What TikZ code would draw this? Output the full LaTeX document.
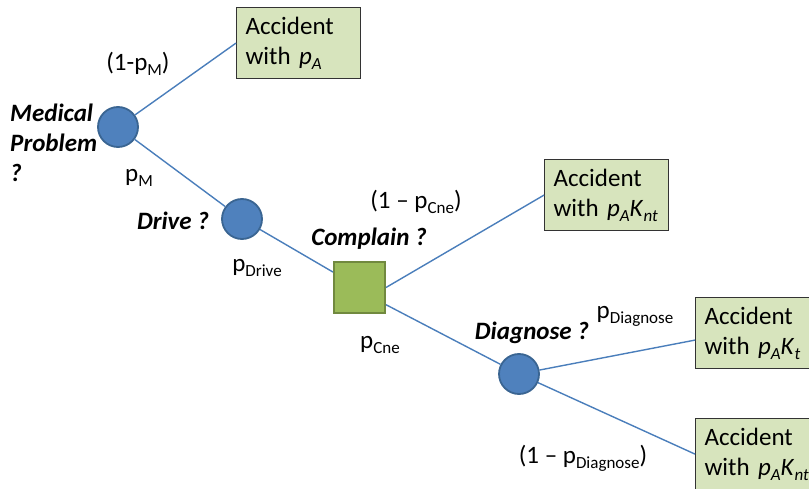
\documentclass[tikz,border=0pt]{standalone}
\usepackage{fontspec}
\setmainfont{Carlito}
\newcommand\lo[1]{\raisebox{-5pt}{\fontsize{17}{17}\selectfont #1}}
\definecolor{circfill}{HTML}{4F81BD}
\definecolor{circborder}{HTML}{3A6592}
\definecolor{sqfill}{HTML}{9BBB59}
\definecolor{sqborder}{HTML}{71893F}
\definecolor{boxfill}{HTML}{D7E4BD}
\definecolor{linecol}{HTML}{4A7EBB}
\begin{document}
\begin{tikzpicture}[x=1pt,y=-1pt,
  font=\fontsize{25}{30}\selectfont,
  chance/.style={circle, draw=circborder, fill=circfill, line width=1.8pt, minimum size=40pt, inner sep=0pt},
  decision/.style={rectangle, draw=sqborder, fill=sqfill, line width=2pt, minimum size=51pt, inner sep=0pt},
  outcome/.style={rectangle, draw=black!80, fill=boxfill, line width=1.2pt, minimum height=71pt, text width=106pt, inner xsep=9pt, inner ysep=0pt, align=left, anchor=north west},
  branch/.style={draw=linecol, line width=1.4pt},
  lbl/.style={inner sep=0pt},
  q/.style={inner sep=0pt, font=\fontsize{25}{30}\selectfont\bfseries\itshape}]
\clip (0,0) rectangle (809,489);
\node[chance] (c1) at (118,127) {};
\node[chance] (c2) at (242,219) {};
\node[decision] (sq) at (359.5,287.5) {};
\node[chance] (c3) at (519,374) {};
\node[outcome] (b1) at (236,7) {Accident\\with \textit{p}\lo{\textit{A}}};
\node[outcome] (b2) at (544,159) {Accident\\with \textit{p}\lo{\textit{A}}\textit{K}\lo{\textit{nt}}};
\node[outcome] (b3) at (695,297) {Accident\\with \textit{p}\lo{\textit{A}}\textit{K}\lo{\textit{t}}};
\node[outcome] (b4) at (695,418) {Accident\\with \textit{p}\lo{\textit{A}}\textit{K}\lo{\textit{nt}}};
\draw[branch] (c1) -- (b1.west);
\draw[branch] (c1) -- (c2);
\draw[branch] (c2) -- (sq);
\draw[branch] (sq.east) -- (b2.west);
\draw[branch] (sq.-33) -- (c3);
\draw[branch] (c3) -- ([yshift=-7pt]b3.west);
\draw[branch] (c3) -- (b4.west);
% labels
\node[lbl] (l1) at (138,64) {(1-p\lo{M})};
\node[q, align=left, anchor=north west] (mp) at (10,104) {Medical\\Problem\\?};
\node[lbl] (l2) at (139,178) {p\lo{M}};
\node[q] (dq) at (173,221) {Drive ?};
\node[lbl] (l3) at (257,268) {p\lo{Drive}};
\node[q] (cq) at (369,239) {Complain ?};
\node[lbl] (l4) at (416,202) {(1 – p\lo{Cne})};
\node[lbl] (l5) at (380,345) {p\lo{Cne}};
\node[q] (gq) at (532,333) {Diagnose ?};
\node[lbl] (l6) at (635,316) {p\lo{Diagnose}};
\node[lbl] (l7) at (583,458) {(1 – p\lo{Diagnose})};
\end{tikzpicture}
\end{document}
